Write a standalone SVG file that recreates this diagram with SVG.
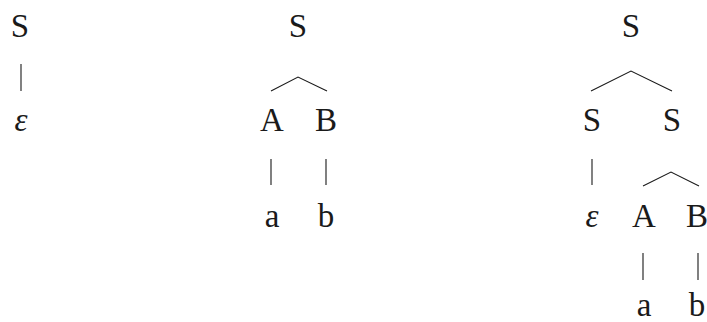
<svg xmlns="http://www.w3.org/2000/svg" width="707" height="322" viewBox="0 0 707 322">
<style>
text{font-family:'Liberation Serif','Times New Roman',serif;font-size:33px;fill:#1a1a1a;text-anchor:middle}
.eps{font-style:italic}
.e{stroke:#1a1a1a;stroke-width:1.1;fill:none}
</style>
<rect width="707" height="322" fill="#fff"/>
<g id="t1-S"><text x="20" y="37">S</text></g>
<g id="t1-eps"><text class="eps" x="21" y="131">ε</text></g>
<g id="t2-S"><text x="298" y="37">S</text></g>
<g id="t2-A"><text x="272" y="131">A</text></g>
<g id="t2-B"><text x="326" y="131">B</text></g>
<g id="t2-a"><text x="272" y="227">a</text></g>
<g id="t2-b"><text x="326" y="227">b</text></g>
<g id="t3-S"><text x="631" y="37">S</text></g>
<g id="t3-S1"><text x="592" y="131">S</text></g>
<g id="t3-S2"><text x="672" y="131">S</text></g>
<g id="t3-eps"><text class="eps" x="592" y="227">ε</text></g>
<g id="t3-A"><text x="644" y="227">A</text></g>
<g id="t3-B"><text x="697" y="227">B</text></g>
<g id="t3-a"><text x="644" y="316">a</text></g>
<g id="t3-b"><text x="697" y="316">b</text></g>
<g id="connectors" class="e">
<path d="M21 64V91"/>
<path d="M271 91L298 77L327 91"/>
<path d="M271 159V185M326 159V185"/>
<path d="M591 91L631 71L672 91"/>
<path d="M592 159V185"/>
<path d="M643 186L671 172L699 186"/>
<path d="M643 253V280M698 253V280"/>
</g>
</svg>
